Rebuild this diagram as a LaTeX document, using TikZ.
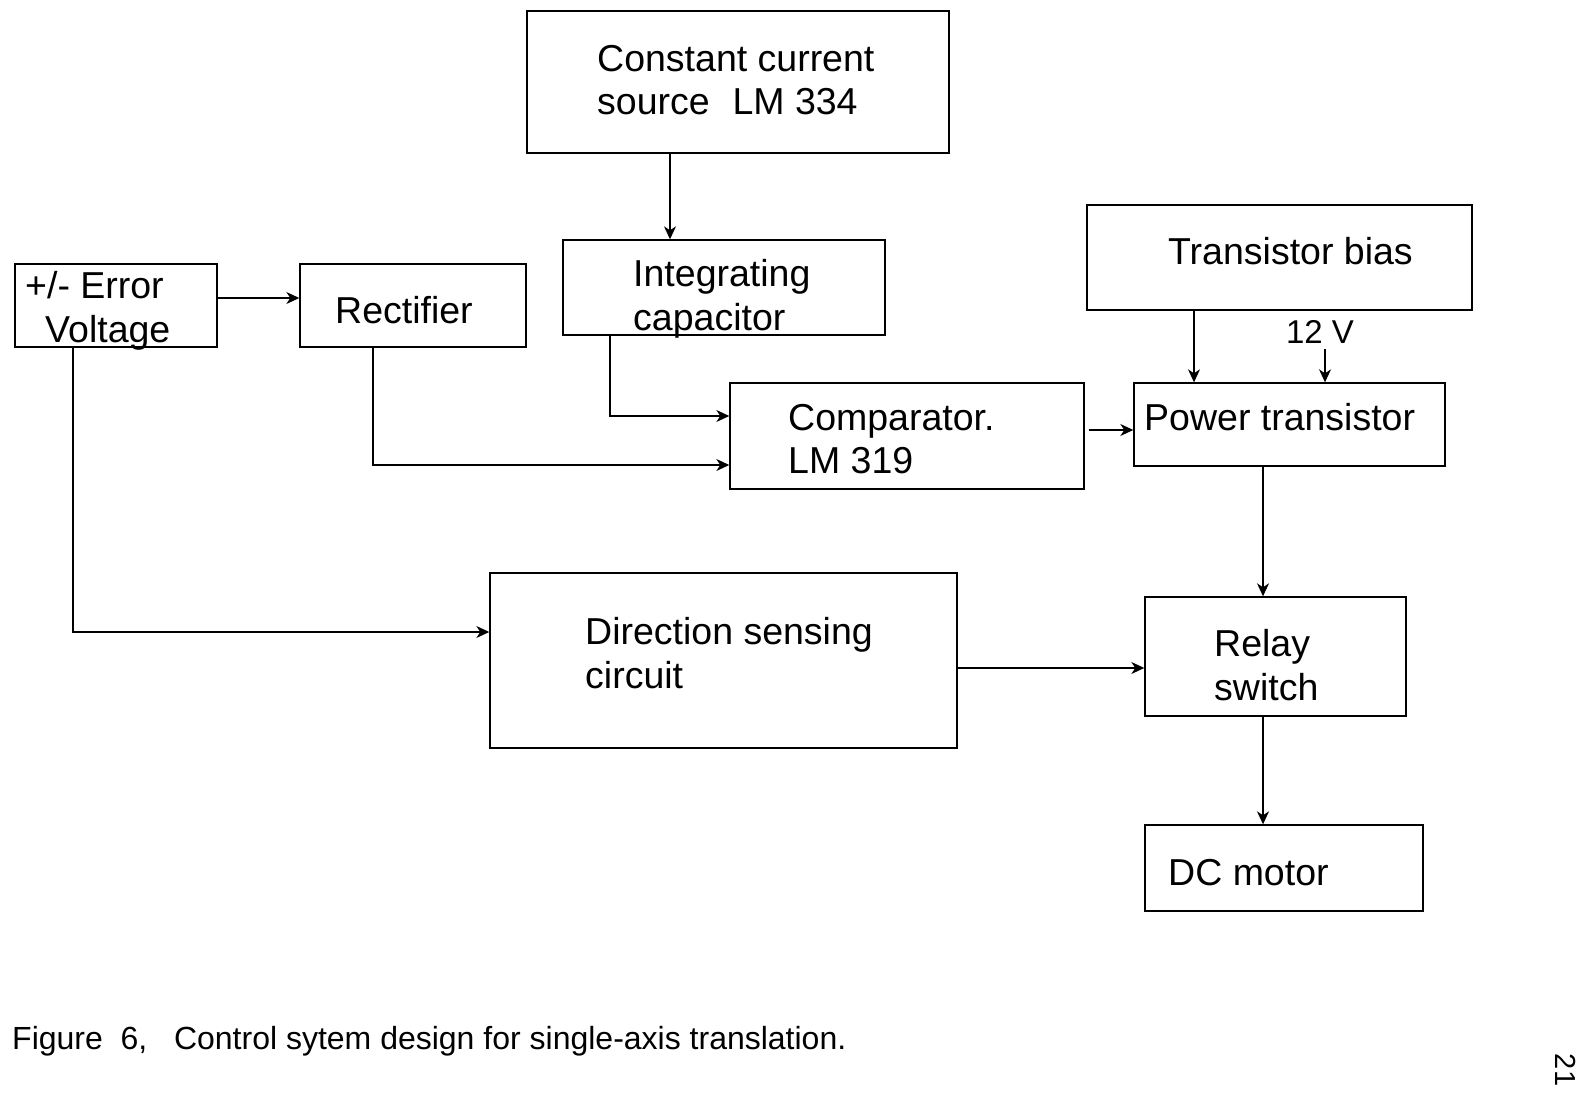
\documentclass[tikz,border=0pt]{standalone}
\usepackage{fontspec}
\setmainfont{Liberation Sans}
\usetikzlibrary{arrows.meta}
\begin{document}
\begin{tikzpicture}[x=1pt,y=-1pt,
  box/.style={draw,line width=1.4pt,inner sep=0pt,rectangle},
  lbl/.style={anchor=west,inner sep=0pt,align=left,font=\fontsize{37.5}{43.5}\selectfont},
  arr/.style={line width=1.4pt,-{Stealth[length=13pt,width=12pt,inset=4pt]}},
  wire/.style={line width=1.4pt}]
\useasboundingbox[fill=white] (0,0) rectangle (1581,1092);

% blocks
\node[box,minimum width=422pt,minimum height=142pt] (cc)   at (738,82)      {};
\node[box,minimum width=322pt,minimum height=95pt]  (ic)   at (724,287.5)   {};
\node[box,minimum width=202pt,minimum height=83pt]  (err)  at (116,305.5)   {};
\node[box,minimum width=226pt,minimum height=83pt]  (rect) at (413,305.5)   {};
\node[box,minimum width=385pt,minimum height=105pt] (tb)   at (1279.5,257.5){};
\node[box,minimum width=354pt,minimum height=106pt] (cmp)  at (907,436)     {};
\node[box,minimum width=311pt,minimum height=83pt]  (pt)   at (1289.5,424.5){};
\node[box,minimum width=467pt,minimum height=175pt] (dir)  at (723.5,660.5) {};
\node[box,minimum width=261pt,minimum height=119pt] (rly)  at (1275.5,656.5){};
\node[box,minimum width=278pt,minimum height=86pt]  (dc)   at (1284,868)    {};

% block labels
\node[lbl] (cc-t)   at (597,80)   {Constant current\\source\hspace{0.33em} LM 334};
\node[lbl] (ic-t)   at (633,299)  {Integrating\\capacitor};
\node[lbl] (err-t)  at (25,311)   {+/- Error\\\hspace{20pt}Voltage};
\node[lbl] (rect-t) at (335,310)  {Rectifier};
\node[lbl] (tb-t)   at (1168,251) {Transistor bias};
\node[lbl] (cmp-t)  at (788,439)  {Comparator.\\LM 319};
\node[lbl] (pt-t)   at (1144,417) {Power transistor};
\node[lbl] (dir-t)  at (585,653)  {Direction sensing\\circuit};
\node[lbl] (rly-t)  at (1214,665) {Relay\\switch};
\node[lbl] (dc-t)   at (1168,873) {DC motor};
\node[inner sep=0pt,font=\fontsize{33}{38}\selectfont] (v12) at (1320,332) {12 V};

% wire positions
\coordinate (x73)   at (73,0);
\coordinate (x373)  at (373,0);
\coordinate (x610)  at (610,0);
\coordinate (x670)  at (670,0);
\coordinate (x1194) at (1194,0);
\coordinate (x1325) at (1325,0);
\coordinate (x1263) at (1263,0);
\coordinate (y298)  at (0,298);
\coordinate (y416)  at (0,416);
\coordinate (y430)  at (0,430);
\coordinate (y465)  at (0,465);
\coordinate (y632)  at (0,632);
\coordinate (y668)  at (0,668);
\coordinate (v12end) at (1325,349);

% connectors
\draw[arr] (x670 |- cc.south) -- (x670 |- ic.north);
\draw[arr] (err.east |- y298) -- (rect.west |- y298);
\draw[arr] (x73 |- err.south) |- (dir.west |- y632);
\draw[arr] (x373 |- rect.south) |- (cmp.west |- y465);
\draw[arr] (x610 |- ic.south) |- (cmp.west |- y416);
\draw[arr] ([xshift=4pt]cmp.east |- y430) -- (pt.west |- y430);
\draw[arr] (x1194 |- tb.south) -- (x1194 |- pt.north);
\draw[arr] (v12end) -- (x1325 |- pt.north);
\draw[arr] (x1263 |- pt.south) -- (x1263 |- rly.north);
\draw[arr] (dir.east |- y668) -- (rly.west |- y668);
\draw[arr] (x1263 |- rly.south) -- (x1263 |- dc.north);

% caption and page number
\node[anchor=west,inner sep=0pt,font=\fontsize{32}{38}\selectfont] (cap) at (12,1041)
  {Figure\ \ 6,\ \ \ Control sytem design for single-axis translation.};
\node[inner sep=0pt,rotate=-90,font=\fontsize{29}{33}\selectfont] (pg) at (1566,1070) {21};
\end{tikzpicture}
\end{document}
